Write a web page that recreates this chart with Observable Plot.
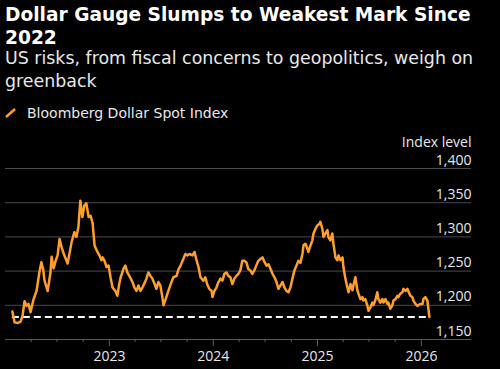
<!DOCTYPE html>
<html>
<head>
<meta charset="utf-8">
<script src="https://cdn.jsdelivr.net/npm/d3@7"></script>
<script src="https://cdn.jsdelivr.net/npm/@observablehq/plot@0.6"></script>
<style>
  html, body { margin: 0; padding: 0; background: #000; }
  body { width: 500px; height: 369px; overflow: hidden; position: relative; font-family: "DejaVu Sans", sans-serif; }
  .title { position: absolute; left: 5px; top: 3px; width: 480px; font-weight: 700; font-size: 18.6px; line-height: 23px; color: #fff; }
  .subtitle { position: absolute; left: 5px; top: 47px; width: 480px; font-size: 17.4px; line-height: 23px; color: #e8e8e8; }
  .legend { position: absolute; left: 5px; top: 105px; font-size: 14px; line-height: 16px; color: #e8e8e8; display: flex; align-items: center; }
  .legend svg { margin-right: 10px; }
  #chart { position: absolute; left: 0; top: 125px; }
</style>
</head>
<body>
<div class="title">Dollar Gauge Slumps to Weakest Mark Since 2022</div>
<div class="subtitle">US risks, from fiscal concerns to geopolitics, weigh on greenback</div>
<div class="legend"><svg width="12" height="10"><line x1="1" y1="9" x2="10" y2="1" stroke="#ff9f2a" stroke-width="2.5"/></svg><span>Bloomberg Dollar Spot Index</span></div>
<div id="chart"></div>
<script>
const dates = [
"2022-01-25","2022-02-02","2022-02-12","2022-02-23","2022-03-02","2022-03-09","2022-03-16","2022-03-23","2022-03-30","2022-04-09",
"2022-04-20","2022-04-30","2022-05-07","2022-05-14","2022-05-18","2022-05-29","2022-06-08","2022-06-12","2022-06-19","2022-06-26",
"2022-07-03","2022-07-10","2022-07-17","2022-07-24","2022-08-07","2022-08-14","2022-08-21","2022-08-31","2022-09-07","2022-09-14",
"2022-09-21","2022-09-28","2022-10-05","2022-10-12","2022-10-20","2022-10-27","2022-11-03","2022-11-10","2022-11-20","2022-11-27",
"2022-12-04","2022-12-08","2022-12-15","2022-12-22","2022-12-29","2023-01-05","2023-01-12","2023-01-22","2023-01-29","2023-02-04",
"2023-02-09","2023-02-19","2023-02-26","2023-03-05","2023-03-12","2023-03-23","2023-03-30","2023-04-06","2023-04-13","2023-04-20",
"2023-04-27","2023-05-04","2023-05-11","2023-05-18","2023-05-25","2023-06-01","2023-06-08","2023-06-15","2023-06-22","2023-06-29",
"2023-07-06","2023-07-10","2023-07-20","2023-07-27","2023-08-07","2023-08-14","2023-08-25","2023-09-01","2023-09-08","2023-09-18",
"2023-09-25","2023-10-02","2023-10-09","2023-10-20","2023-10-27","2023-11-03","2023-11-10","2023-11-17","2023-11-27","2023-12-04",
"2023-12-11","2023-12-18","2023-12-26","2023-12-29","2024-01-05","2024-01-12","2024-01-19","2024-01-26","2024-02-02","2024-02-09",
"2024-02-16","2024-02-23","2024-03-01","2024-03-08","2024-03-15","2024-03-22","2024-03-29","2024-04-05","2024-04-12","2024-04-19",
"2024-04-26","2024-05-03","2024-05-10","2024-05-17","2024-05-24","2024-05-31","2024-06-07","2024-06-15","2024-06-22","2024-06-29",
"2024-07-06","2024-07-13","2024-07-20","2024-07-27","2024-08-03","2024-08-10","2024-08-17","2024-08-24","2024-08-31","2024-09-07",
"2024-09-14","2024-09-21","2024-09-28","2024-10-05","2024-10-12","2024-10-19","2024-10-26","2024-11-02","2024-11-09","2024-11-13",
"2024-11-20","2024-11-27","2024-11-30","2024-12-07","2024-12-14","2024-12-18","2024-12-25","2025-01-01","2025-01-08","2025-01-11",
"2025-01-18","2025-01-22","2025-01-29","2025-02-05","2025-02-08","2025-02-15","2025-02-22","2025-02-26","2025-03-05","2025-03-12",
"2025-03-16","2025-03-23","2025-03-30","2025-04-02","2025-04-09","2025-04-16","2025-04-20","2025-04-27","2025-05-04","2025-05-07",
"2025-05-14","2025-05-21","2025-05-25","2025-06-01","2025-06-08","2025-06-11","2025-06-18","2025-06-25","2025-06-29","2025-07-06",
"2025-07-13","2025-07-16","2025-07-23","2025-07-30","2025-08-03","2025-08-10","2025-08-17","2025-08-21","2025-08-28","2025-09-04",
"2025-09-07","2025-09-14","2025-09-21","2025-09-25","2025-10-02","2025-10-09","2025-10-12","2025-10-19","2025-10-26","2025-10-30",
"2025-11-06","2025-11-13","2025-11-16","2025-11-23","2025-11-30","2025-12-04","2025-12-11","2025-12-18","2025-12-21","2025-12-28",
"2026-01-05","2026-01-08","2026-01-15","2026-01-22","2026-01-29"
];
const values = [
1191,1175,1174,1176,1185,1206,1199,1202,1190,1208,
1221,1248,1263,1251,1236,1221,1248,1271,1254,1265,
1273,1297,1285,1276,1261,1276,1292,1307,1300,1314,
1353,1329,1346,1349,1329,1331,1320,1287,1278,1273,
1266,1270,1265,1256,1258,1241,1226,1221,1214,1230,
1240,1253,1258,1248,1243,1234,1226,1221,1229,1221,
1226,1232,1239,1248,1243,1239,1232,1224,1234,1229,
1212,1200,1212,1221,1234,1241,1243,1253,1258,1268,
1275,1273,1275,1273,1278,1266,1256,1241,1236,1241,
1230,1224,1221,1212,1221,1226,1234,1239,1236,1246,
1248,1243,1241,1231,1239,1243,1246,1251,1265,1265,
1263,1253,1251,1246,1251,1258,1265,1268,1270,1263,
1258,1260,1253,1246,1241,1234,1224,1229,1234,1226,
1221,1219,1226,1239,1251,1258,1265,1262,1275,1288,
1290,1282,1278,1287,1295,1305,1312,1317,1319,1322,
1312,1300,1305,1310,1300,1295,1305,1290,1270,1266,
1273,1266,1270,1256,1239,1226,1219,1231,1222,1229,
1241,1222,1217,1209,1212,1207,1209,1200,1192,1197,
1204,1200,1207,1219,1209,1204,1209,1204,1209,1202,
1204,1195,1200,1207,1209,1214,1212,1217,1219,1224,
1221,1224,1221,1214,1212,1207,1202,1199,1200,1202,
1202,1209,1212,1207,1183
];
const yTicks = [1150, 1200, 1250, 1300, 1350, 1400];
const yearTicks = ["2023-01-01", "2024-01-01", "2025-01-01", "2026-01-01"];
const quarterTicks = ["2022-04-01","2022-07-01","2022-10-01","2023-04-01","2023-07-01","2023-10-01",
  "2024-04-01","2024-07-01","2024-10-01","2025-04-01","2025-07-01","2025-10-01"];
const lowLevel = 1183;
const xDomain = ["2022-01-01", "2026-06-26"];

const parse = d3.utcParse("%Y-%m-%d");
const data = dates.map((d, i) => ({date: parse(d), value: values[i]}));

const chart = Plot.plot({
  width: 500,
  height: 244,
  marginLeft: 5,
  marginRight: 29,
  marginTop: 43,
  marginBottom: 30,
  style: {background: "#000", color: "#e8e8e8", fontFamily: "'Open Sans', sans-serif", fontSize: "14px", overflow: "visible"},
  x: {type: "utc", domain: xDomain.map(parse), axis: null},
  y: {domain: [1150, 1400], axis: null},
  marks: [
    Plot.ruleY(yTicks.slice(1), {stroke: "#4a4a4a", strokeWidth: 1}),
    Plot.ruleY([1150], {stroke: "#5a5a5a", strokeWidth: 1}),
    Plot.axisX(quarterTicks.map(parse), {tickSize: 3, tickFormat: null, stroke: "#5a5a5a", text: null}),
    Plot.axisX(yearTicks.map(parse), {tickSize: 7, tickPadding: 5, tickFormat: "%Y", stroke: "#5a5a5a", fill: "#e8e8e8", fontSize: 14}),
    Plot.text(yTicks, {y: d => d, text: d => d3.format(",")(d), frameAnchor: "right", textAnchor: "end", lineAnchor: "bottom", dy: -4, fill: "#e8e8e8", fontSize: 14}),
    Plot.text(["Index level"], {y: () => 1400, frameAnchor: "right", textAnchor: "end", lineAnchor: "bottom", dy: -22, fill: "#e8e8e8", fontSize: 14}),
    Plot.ruleY([lowLevel], {x1: () => data[0].date, x2: () => data[data.length - 1].date, stroke: "#fff", strokeWidth: 2, strokeDasharray: "7,4"}),
    Plot.line(data, {x: "date", y: "value", stroke: "#ff9f2a", strokeWidth: 2.5, strokeLinejoin: "round"})
  ]
});
document.getElementById("chart").appendChild(chart);
</script>
</body>
</html>
